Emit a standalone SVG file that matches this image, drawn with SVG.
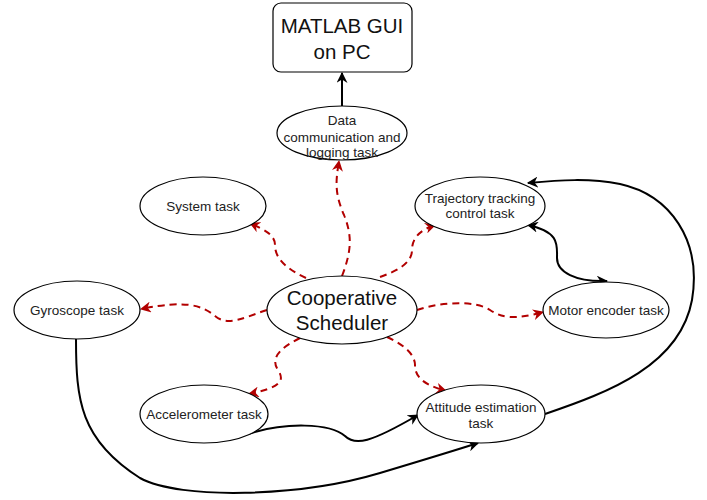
<svg xmlns="http://www.w3.org/2000/svg" width="707" height="500" viewBox="0 0 707 500">
<style>
.n{fill:#fff;stroke:#000;stroke-width:1.2}
.t{font-family:"Liberation Sans",Arial,sans-serif;font-size:13.5px;fill:#222;text-anchor:middle}
.big{font-size:20.5px;fill:#111}
.red{fill:none;stroke:#b20000;stroke-width:2;stroke-dasharray:7 5;marker-end:url(#ar)}
.blk{fill:none;stroke:#000;stroke-width:2;marker-end:url(#ab)}
</style>
<defs>
<marker id="ar" viewBox="0 0 10 10" refX="9" refY="5" markerWidth="11" markerHeight="11" markerUnits="userSpaceOnUse" orient="auto-start-reverse"><path d="M0,0 L10,5 L0,10 L3,5 Z" fill="#b20000"/></marker>
<marker id="ab" viewBox="0 0 10 10" refX="9" refY="5" markerWidth="11" markerHeight="11" markerUnits="userSpaceOnUse" orient="auto-start-reverse"><path d="M0,0 L10,5 L0,10 L3,5 Z" fill="#000"/></marker>
</defs>
<g id="connectors">
<path class="blk" d="M342,106 L342,73"/>
<path class="red" d="M342,276 C352,250 352,235 344,215 C334,192 336,180 339,161"/>
<path class="red" d="M306,278 C285,268 275,258 275,245 C275,235 265,230 250,223"/>
<path class="red" d="M380,277 C400,270 412,262 412,250 C412,238 420,230 435,225"/>
<path class="red" d="M267,310 C245,317 228,327 215,316 C202,305 185,300 141,309"/>
<path class="red" d="M417,310 C440,302 475,300 490,310 C502,318 515,320 543,312"/>
<path class="red" d="M300,338 C280,348 270,358 278,370 C286,382 278,388 249,394"/>
<path class="red" d="M387,337 C405,345 415,355 415,365 C415,378 425,385 446,391"/>
<path class="blk" d="M248,434 C285,422 330,423 345,436 C355,446 370,443 418,415"/>
<path class="blk" d="M76,339 C76,400 80,440 140,478 C180,500 300,497 380,473 C420,461 450,452 478,443"/>
<path class="blk" d="M545,414 C610,392 680,365 692,300 C702,240 670,195 620,184 C590,178 560,180 528,183"/>
<path class="blk" style="marker-start:url(#ab)" d="M528,225 C560,232 557,245 557,258 C557,272 575,282 607,281"/>
</g>
<g id="matlab"><rect class="n" x="273" y="3" width="139" height="69" rx="8"/><text class="t big" x="342" y="33">MATLAB GUI</text><text class="t big" x="342" y="59">on PC</text></g>
<g id="datacomm"><ellipse class="n" cx="342" cy="133" rx="65" ry="27"/><text class="t" x="342" y="125">Data</text><text class="t" x="342" y="142">communication and</text><text class="t" x="342" y="157">logging task</text></g>
<g id="system"><ellipse class="n" cx="203" cy="206" rx="63" ry="29"/><text class="t" x="203" y="211">System task</text></g>
<g id="trajectory"><ellipse class="n" cx="480" cy="206" rx="65" ry="29"/><text class="t" x="480" y="203">Trajectory tracking</text><text class="t" x="480" y="218">control task</text></g>
<g id="scheduler"><ellipse class="n" cx="342" cy="310" rx="75" ry="34"/><text class="t big" x="342" y="305">Cooperative</text><text class="t big" x="342" y="330">Scheduler</text></g>
<g id="gyroscope"><ellipse class="n" cx="77" cy="310" rx="63" ry="29"/><text class="t" x="77" y="315">Gyroscope task</text></g>
<g id="motor"><ellipse class="n" cx="606" cy="310" rx="63" ry="28"/><text class="t" x="606" y="315">Motor encoder task</text></g>
<g id="accelerometer"><ellipse class="n" cx="204" cy="414" rx="64" ry="29"/><text class="t" x="204" y="419">Accelerometer task</text></g>
<g id="attitude"><ellipse class="n" cx="481" cy="414" rx="64" ry="29"/><text class="t" x="481" y="412">Attitude estimation</text><text class="t" x="481" y="428">task</text></g>
</svg>
